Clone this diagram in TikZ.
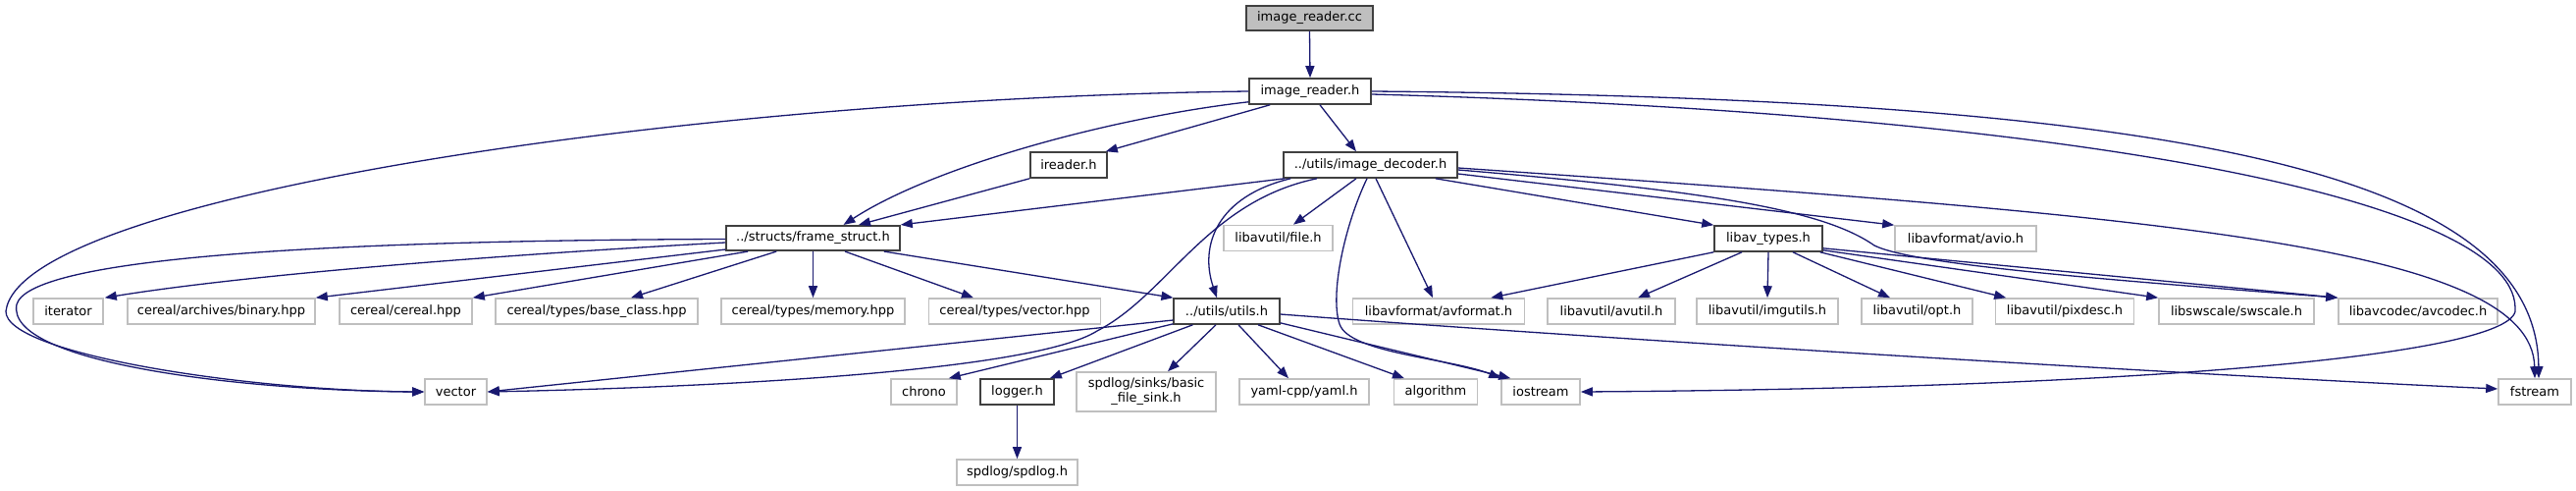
\documentclass[tikz,border=0pt]{standalone}
\usepackage{fontspec}
\setmainfont{DejaVu Sans}
\usetikzlibrary{arrows.meta,calc}
\definecolor{eb}{RGB}{25,25,112}
\definecolor{dk}{RGB}{64,64,64}
\definecolor{gy}{RGB}{191,191,191}
\newcommand{\fsz}{\fontsize{13}{15}\selectfont}
\tikzset{
  nd/.style={draw=dk, line width=1.6pt, inner sep=0pt, minimum height=26pt, font=\fsz, text=black, align=center, fill=white},
  gn/.style={nd, draw=gy},
  edge/.style={draw=eb, line width=1.3pt, -{Triangle[length=12pt,width=9pt]}},
}
\begin{document}
\begin{tikzpicture}[x=1pt,y=-1pt]
\fill[white] (0,0) rectangle (2625,500);
\useasboundingbox (0,0) rectangle (2625,500);

% nodes
\node[nd, fill=gy, minimum width=129pt, minimum height=25pt] (irc) at (1334.5,18.5) {image\_reader.cc};
\node[nd, minimum width=124pt] (irh) at (1335,93) {image\_reader.h};
\node[nd, minimum width=78pt] (ird) at (1089,168) {ireader.h};
\node[nd, minimum width=177pt] (idc) at (1396.5,168) {../utils/image\_decoder.h};
\node[nd, minimum width=177pt, minimum height=25.5pt] (fs) at (828.5,242.5) {../structs/frame\_struct.h};
\node[gn, minimum width=111pt] (filh) at (1302.5,242.5) {libavutil/file.h};
\node[nd, minimum width=110pt] (lat) at (1802,243) {libav\_types.h};
\node[gn, minimum width=144pt] (avio) at (2003,243) {libavformat/avio.h};

\node[gn, minimum width=71pt] (iter) at (69.5,317) {iterator};
\node[gn, minimum width=191pt] (bin) at (225.5,317) {cereal/archives/binary.hpp};
\node[gn, minimum width=135pt] (cer) at (413.5,317) {cereal/cereal.hpp};
\node[gn, minimum width=206pt] (base) at (608,317) {cereal/types/base\_class.hpp};
\node[gn, minimum width=187pt] (mem) at (828.5,317) {cereal/types/memory.hpp};
\node[gn, minimum width=175pt] (vech) at (1034,317) {cereal/types/vector.hpp};
\node[nd, minimum width=107.5pt] (utl) at (1250,317) {../utils/utils.h};
\node[gn, minimum width=175pt] (avf) at (1466,317) {libavformat/avformat.h};
\node[gn, minimum width=130pt] (avu) at (1642,317) {libavutil/avutil.h};
\node[gn, minimum width=144pt] (img) at (1801,317) {libavutil/imgutils.h};
\node[gn, minimum width=113pt] (opt) at (1953.5,317) {libavutil/opt.h};
\node[gn, minimum width=141pt] (pix) at (2104,317) {libavutil/pixdesc.h};
\node[gn, minimum width=158pt] (sws) at (2279,317) {libswscale/swscale.h};
\node[gn, minimum width=162pt] (avc) at (2464,317) {libavcodec/avcodec.h};

\node[gn, minimum width=63pt] (vec) at (464.5,399) {vector};
\node[gn, minimum width=67pt] (chr) at (941.5,399) {chrono};
\node[nd, minimum width=75pt] (log) at (1036.5,399) {logger.h};
\node[gn, minimum width=141.5pt, minimum height=40pt] (bfs) at (1168,399) {spdlog/sinks/basic\\\_file\_sink.h};
\node[gn, minimum width=132pt] (yml) at (1329,399) {yaml-cpp/yaml.h};
\node[gn, minimum width=85pt] (alg) at (1463,399) {algorithm};
\node[gn, minimum width=80pt] (ios) at (1570,399) {iostream};
\node[gn, minimum width=74pt] (fst) at (2583,399) {fstream};
\node[gn, minimum width=123pt] (spd) at (1036.5,481) {spdlog/spdlog.h};

% image_reader.cc
\draw[edge] (irc.south) -- (irh.north);

% image_reader.h
\draw[edge] ($(irh.south west)+(0,-3)$) .. controls (1130,120) and (950,170) .. ($(fs.north)+(31,0)$);
\draw[edge] ($(irh.south west)+(22,0)$) -- ($(ird.north east)+(-2,0)$);
\draw[edge] ($(irh.south)+(10,0)$) -- ($(idc.north)+(-14.5,0)$);
\draw[edge] (irh.west) .. controls (700,100) and (20,200) .. (6,317) .. controls (5,360) and (250,398) .. (vec.west);
\draw[edge] (irh.east) .. controls (2200,100) and (2585,170) .. ($(fst.north)+(4,0)$);
\draw[edge] ($(irh.east)+(0,3)$) .. controls (2100,115) and (2560,200) .. (2563,313) .. controls (2575,360) and (2200,395) .. (ios.east);

% ireader.h
\draw[edge] (ird.south west) -- ($(fs.north)+(46.5,0)$);

% image_decoder.h
\draw[edge] ($(idc.south west)+(2,0)$) -- (fs.north east);
\draw[edge] ($(idc.south west)+(8,0)$) .. controls (1240,200) and (1222,250) .. ($(utl.north)+(-10,0)$);
\draw[edge] ($(idc.south)+(-54.5,0)$) .. controls (1230,205) and (1190,300) .. (1118,337) .. controls (1050,380) and (700,395) .. (vec.east);
\draw[edge] ($(idc.south)+(-14.5,0)$) -- ($(filh.north)+(15.5,0)$);
\draw[edge] ($(idc.south)+(-3.5,0)$) .. controls (1370,230) and (1355,300) .. (1365,330) .. controls (1375,360) and (1480,365) .. (ios.north west);
\draw[edge] ($(idc.south)+(5.5,0)$) -- ($(avf.north)+(-6,0)$);
\draw[edge] ($(idc.south east)+(-23,0)$) -- (lat.north west);
\draw[edge] ($(idc.east)+(0,9)$) -- (avio.north west);
\draw[edge] ($(idc.east)+(0,3)$) .. controls (2200,220) and (2580,250) .. (fst.north);
\draw[edge] ($(idc.east)+(0,5)$) .. controls (1750,195) and (1860,215) .. (1910,250) .. controls (1950,270) and (2150,285) .. (avc.north west);

% libav_types.h
\draw[edge] (lat.south west) -- ($(avf.north east)+(-35,0)$);
\draw[edge] ($(lat.south)+(-27,0)$) -- ($(avu.north)+(27,0)$);
\draw[edge] (lat.south) -- (img.north);
\draw[edge] ($(lat.south)+(25,0)$) -- ($(opt.north)+(-27.5,0)$);
\draw[edge] ($(lat.south east)+(-3,0)$) -- ($(pix.north west)+(11.5,0)$);
\draw[edge] ($(lat.south east)+(0,-2)$) -- (sws.north west);
\draw[edge] ($(lat.south east)+(0,-4)$) -- (avc.north west);

% frame_struct.h
\draw[edge] ($(fs.west)+(0,1)$) .. controls (300,245) and (30,265) .. (17,310) .. controls (5,370) and (250,398) .. (vec.west);
\draw[edge] ($(fs.west)+(0,4.5)$) .. controls (500,260) and (250,280) .. ($(iter.north east)+(1,0)$);
\draw[edge] ($(fs.south west)+(0,-2)$) -- (bin.north east);
\draw[edge] ($(fs.south west)+(23,0)$) -- (cer.north east);
\draw[edge] ($(fs.south west)+(52,0)$) -- ($(base.north)+(35,0)$);
\draw[edge] (fs.south) -- (mem.north);
\draw[edge] ($(fs.south)+(32.5,0)$) -- ($(vech.north)+(-42,0)$);
\draw[edge] ($(fs.south east)+(-17,0)$) -- (utl.north west);

% utils.h
\draw[edge] ($(utl.west)+(0,9)$) -- (vec.east);
\draw[edge] ($(utl.south west)+(0,-1)$) -- ($(chr.north east)+(-9,0)$);
\draw[edge] ($(utl.south west)+(20,0)$) -- ($(log.north east)+(-5,0)$);
\draw[edge] ($(utl.south)+(-11,0)$) -- ($(bfs.north)+(22,0)$);
\draw[edge] ($(utl.south)+(12,0)$) -- ($(yml.north)+(-16,0)$);
\draw[edge] ($(utl.south)+(32,0)$) -- ($(alg.north)+(-32,0)$);
\draw[edge] ($(utl.south east)+(0,-2)$) -- ($(ios.north west)+(10,0)$);
\draw[edge] ($(utl.east)+(0,3)$) .. controls (1700,350) and (2300,385) .. ($(fst.west)+(0,-3)$);

% logger.h
\draw[edge] (log.south) -- (spd.north);
\end{tikzpicture}
\end{document}
